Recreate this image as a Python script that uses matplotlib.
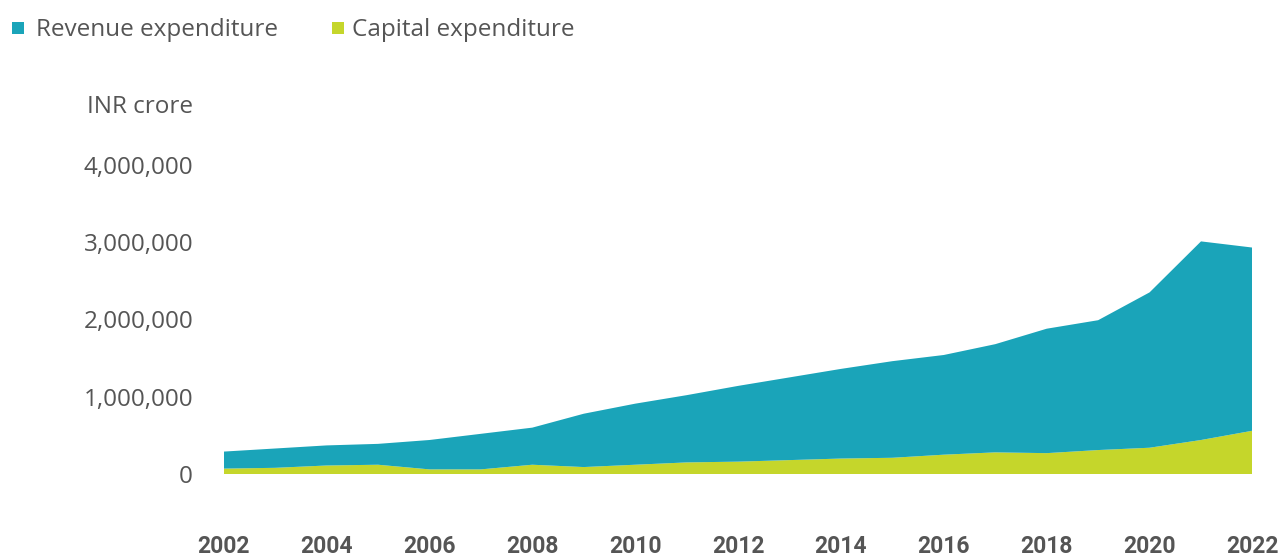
import matplotlib
matplotlib.use('Agg')
import matplotlib.pyplot as plt
from matplotlib.patches import Rectangle
from matplotlib.ticker import FuncFormatter

years = list(range(2002, 2023))
# total expenditure (top of the stack), INR crore
total = [290000, 330000, 370000, 390000, 440000, 520000, 600000, 780000, 910000,
         1020000, 1140000, 1250000, 1360000, 1460000, 1540000, 1680000, 1880000,
         1990000, 2350000, 3010000, 2930000]
capital = [70000, 80000, 110000, 120000, 60000, 60000, 120000, 90000, 120000,
           150000, 160000, 180000, 200000, 210000, 250000, 280000, 270000,
           310000, 340000, 440000, 560000]
revenue = [t - c for t, c in zip(total, capital)]

teal = '#1aa4b9'
lime = '#c5d62b'
txt = '#555555'

plt.rcParams['font.family'] = ['Open Sans', 'DejaVu Sans']

W, H = 1278, 557
fig = plt.figure(figsize=(W / 100, H / 100), dpi=100)
ax = fig.add_axes([0.175, 0.149, 0.805, 0.555])

ax.stackplot(years, capital, revenue, colors=[lime, teal], linewidth=0)

ax.set_xlim(2002, 2022)
ax.set_ylim(0, 4000000)
ax.set_xticks(years[::2])
ax.set_yticks([0, 1000000, 2000000, 3000000, 4000000])
ax.yaxis.set_major_formatter(FuncFormatter(lambda v, p: f'{int(v):,}'))

for s in ax.spines.values():
    s.set_visible(False)
ax.tick_params(axis='both', length=0)
ax.tick_params(axis='y', pad=22, labelsize=17.5, labelcolor=txt)
ax.tick_params(axis='x', pad=44, labelcolor=txt)
for lab in ax.get_xticklabels():
    lab.set_family(['Liberation Sans Narrow', 'Roboto', 'DejaVu Sans'])
    lab.set_fontweight('bold')
    lab.set_fontsize(16.5)

ax.text(-0.03, 1.188, 'INR crore', transform=ax.transAxes, ha='right', va='center',
        fontsize=17.5, color=txt)

# legend drawn by hand: small squares + labels along the top
for x_sq, x_txt, col, lab in [(12, 36, teal, 'Revenue expenditure'),
                              (332, 352, lime, 'Capital expenditure')]:
    fig.patches.append(Rectangle((x_sq / W, 1 - 34 / H), 12 / W, 12 / H,
                                 transform=fig.transFigure, color=col, lw=0))
    fig.text(x_txt / W, 1 - 30 / H, lab, ha='left', va='center',
             fontsize=17.5, color=txt)

fig.savefig('out.png', dpi=100)
